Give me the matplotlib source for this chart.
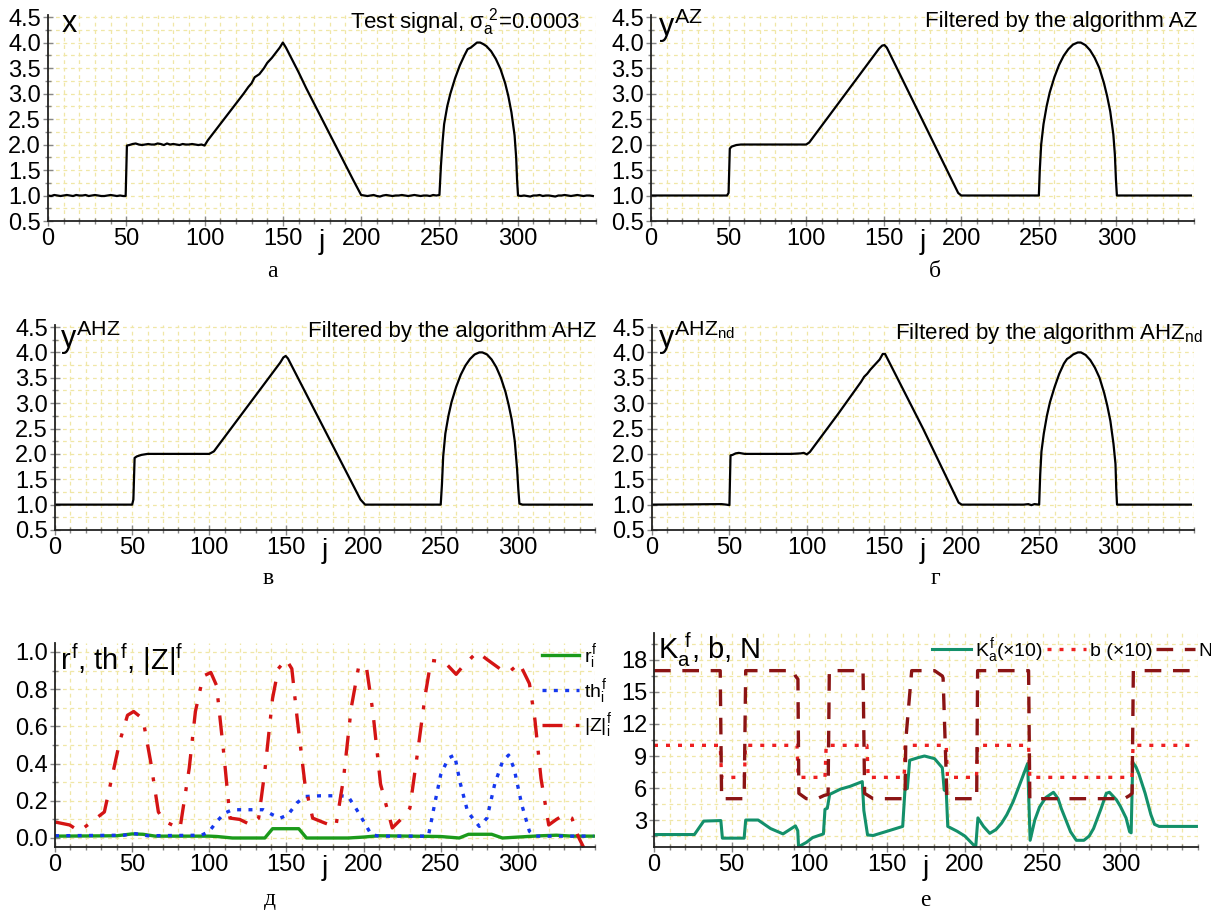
import matplotlib
matplotlib.use('Agg')
import matplotlib.pyplot as plt
from matplotlib.ticker import MultipleLocator, FixedLocator, FormatStrFormatter
import numpy as np

plt.rcParams['font.family'] = ['Liberation Sans', 'DejaVu Sans']
plt.rcParams['mathtext.fontset'] = 'custom'
plt.rcParams['mathtext.rm'] = 'Liberation Sans'
plt.rcParams['mathtext.it'] = 'Liberation Sans'
plt.rcParams['mathtext.bf'] = 'Liberation Sans:bold'
plt.rcParams['mathtext.sf'] = 'Liberation Sans'

# ---------------- data ----------------
# (a) test signal x
sig_j = np.concatenate([np.arange(0, 50, 2), [49.6, 50.4], np.arange(52, 100, 2),
                        [100, 102, 105, 110, 115, 120, 125, 128, 130, 132, 135, 138, 140, 143, 145, 148, 150,
                         152, 155, 160, 165, 170, 175, 180, 185, 188, 190, 195, 200],
                        np.arange(202, 250, 2),
                        [250, 251, 252, 253, 255, 257, 260, 263, 266, 268, 270, 272, 274, 276, 278, 280, 283,
                         286, 289, 292, 294, 296, 298, 299, 299.6, 300.2],
                        np.arange(302, 350, 2)])
sig_x = [1.00, 0.99, 1.01, 1.00, 0.99, 1.00, 1.01, 1.00, 0.99, 1.01, 1.00, 1.00, 1.01, 0.99, 1.00, 1.01,
         1.00, 0.99, 0.99, 1.00, 1.01, 1.00, 0.99, 1.00, 0.99,
         0.99, 1.98,
         1.99, 2.01, 2.02, 2.00, 1.99, 2.00, 2.01, 2.00, 2.00, 2.02, 2.01, 1.99, 2.02, 2.00, 2.01, 2.00,
         1.99, 2.01, 2.00, 2.00, 2.01, 2.00, 1.99, 2.00,
         1.98, 2.08, 2.2, 2.4, 2.6, 2.8, 3.0, 3.13, 3.2, 3.32, 3.38, 3.5, 3.6, 3.7, 3.78, 3.9, 4.0,
         3.9, 3.72, 3.42, 3.1, 2.8, 2.5, 2.2, 1.9, 1.72, 1.6, 1.3, 1.01,
         1.00, 0.99, 1.00, 1.01, 0.99, 0.98, 1.00, 1.01, 1.00, 0.99, 1.00, 1.00, 1.01, 1.00, 0.99, 1.00,
         1.01, 1.00, 0.99, 1.00, 1.00, 0.99, 1.01, 1.00,
         1.01, 1.6, 2.05, 2.4, 2.75, 3.0, 3.3, 3.55, 3.75, 3.87, 3.9, 3.95, 4.0, 4.0, 3.97, 3.93, 3.83,
         3.68, 3.48, 3.2, 2.95, 2.63, 2.18, 1.75, 1.3, 1.0,
         0.99, 1.00, 0.99, 0.98, 1.00, 1.00, 1.01, 0.99, 1.00, 1.00, 0.99, 0.98, 1.00, 1.00, 1.01, 1.00,
         0.99, 1.00, 1.01, 1.00, 0.99, 1.00, 1.00, 0.99]

# (b) filtered AZ
az_j = [0, 49, 50, 50.8, 52, 55, 58, 100, 102, 147, 149, 150.5, 152, 198, 200, 202, 250, 250.6, 251.5,
        253, 255, 257, 260, 263, 266, 269, 272, 275, 277, 280, 283, 286, 289, 292, 294, 296, 298, 299,
        299.7, 300.3, 302, 348]
az_y = [1.0, 1.0, 1.05, 1.92, 1.96, 1.99, 2.0, 2.0, 2.04, 3.88, 3.94, 3.95, 3.9, 1.05, 1.0, 1.0, 1.0,
        1.5, 2.0, 2.4, 2.75, 3.02, 3.32, 3.56, 3.74, 3.87, 3.96, 4.0, 4.0, 3.95, 3.85, 3.7, 3.5, 3.2,
        2.95, 2.65, 2.2, 1.8, 1.3, 1.0, 1.0, 1.0]

# (c) filtered AHZ
ahz_j = [0, 50, 50.8, 51.6, 53, 56, 60, 100, 103, 146, 148, 149.5, 151, 198, 201, 203, 250, 250.8,
         251.6, 253, 255, 257, 260, 263, 266, 269, 272, 275, 277, 280, 283, 286, 289, 292, 294, 296,
         298, 299.5, 300.3, 301, 303, 348]
ahz_y = [1.0, 1.0, 1.1, 1.92, 1.95, 1.98, 2.0, 2.0, 2.05, 3.8, 3.9, 3.93, 3.88, 1.1, 1.0, 1.0, 1.0,
         1.4, 1.95, 2.4, 2.75, 3.02, 3.32, 3.56, 3.74, 3.87, 3.96, 4.0, 4.0, 3.96, 3.86, 3.71, 3.5,
         3.22, 2.97, 2.68, 2.25, 1.7, 1.3, 1.02, 1.0, 1.0]

# (d) filtered AHZ_nd
nd_j = [0, 45, 48, 50, 50.7, 52, 54, 56, 60, 70, 80, 90, 96, 98, 100, 102, 120, 135, 137, 139, 141,
        144, 147, 149, 150.5, 152, 175, 198, 200, 202, 240, 243, 245, 247, 250, 250.7, 251.5, 253,
        255, 257, 260, 263, 266, 268, 270, 272, 275, 277, 280, 283, 286, 289, 292, 294, 296, 298,
        299.3, 299.8, 300.3, 302, 348]
nd_y = [1.0, 1.01, 1.0, 0.99, 1.97, 1.98, 2.01, 2.02, 2.0, 2.0, 2.0, 2.0, 2.01, 2.02, 1.99, 2.04,
        2.78, 3.42, 3.52, 3.58, 3.66, 3.76, 3.86, 3.97, 3.97, 3.88, 2.5, 1.04, 1.0, 1.0, 1.0, 1.01,
        0.99, 1.01, 1.0, 1.6, 2.05, 2.4, 2.75, 3.02, 3.32, 3.58, 3.78, 3.87, 3.91, 3.96, 4.0, 4.0,
        3.95, 3.85, 3.7, 3.5, 3.2, 2.95, 2.65, 2.2, 1.8, 1.3, 1.0, 1.0, 1.0]

# (e) r, th, |Z|
r_j = [0, 40, 50, 57, 65, 100, 105, 115, 136, 141, 158, 163, 190, 200, 210, 230, 250, 262, 268, 283,
       290, 300, 315, 325, 335, 349]
r_v = [0.01, 0.012, 0.022, 0.02, 0.01, 0.01, 0.008, 0.0, 0.0, 0.05, 0.05, 0.0, 0.0, 0.005, 0.012,
       0.01, 0.008, 0.0, 0.02, 0.02, 0.0, 0.005, 0.012, 0.015, 0.01, 0.01]
th_j = [0, 45, 50, 55, 60, 95, 100, 105, 110, 115, 135, 141, 146, 151, 157, 162, 172, 185, 190, 195,
        200, 205, 210, 242, 246, 250, 255, 259, 262.5, 267.5, 275, 280, 285, 290, 294, 297.5, 302.5,
        307.5, 311, 349]
th_v = [0.012, 0.015, 0.025, 0.02, 0.012, 0.015, 0.036, 0.09, 0.134, 0.152, 0.152, 0.125, 0.107,
        0.125, 0.19, 0.223, 0.227, 0.227, 0.223, 0.16, 0.09, 0.018, 0.01, 0.01, 0.18, 0.34, 0.43,
        0.446, 0.30, 0.14, 0.0625, 0.107, 0.29, 0.41, 0.446, 0.375, 0.18, 0.036, 0.01, 0.01]
z_j = [0, 9.5, 15.8, 32, 42, 47, 51, 57, 62, 67, 71, 81, 87, 91, 96, 101, 104.7, 109.7, 113.4, 119.7,
       127, 132, 136, 141, 144.7, 149.8, 153.5, 157, 162, 167, 175, 182, 187, 192, 197, 202, 206, 211,
       218.6, 225, 230, 235, 240, 243.7, 252.5, 260, 265, 273.7, 280, 290, 294, 301, 307.5, 311, 315,
       320, 325, 330, 335, 339, 342.6]
z_v = [0.086, 0.07, 0.036, 0.14, 0.52, 0.66, 0.68, 0.64, 0.41, 0.14, 0.09, 0.05, 0.375, 0.68, 0.87,
       0.89, 0.82, 0.43, 0.107, 0.10, 0.07, 0.107, 0.36, 0.75, 0.91, 0.96, 0.91, 0.64, 0.29, 0.107,
       0.08, 0.06, 0.32, 0.70, 0.93, 0.91, 0.68, 0.29, 0.054, 0.107, 0.16, 0.46, 0.77, 0.955, 0.946,
       0.88, 0.93, 1.0, 0.96, 0.90, 0.89, 0.94, 0.83, 0.64, 0.32, 0.07, 0.10, 0.125, 0.107, 0.01, -0.05]

# (f) K, b, N
k_j = [0, 26, 32, 43, 44, 58, 59, 67, 75, 83, 91, 92.5, 93, 98, 102, 109, 110, 111.5, 113, 120, 126,
       134, 135, 137.4, 141, 150, 160, 161.5, 163, 164.5, 170, 174, 180.5, 185.5, 186.7, 188, 189,
       195, 200, 206, 207, 208.4, 212, 216, 220, 223.6, 227, 231, 236, 240.4, 242, 245, 248, 252,
       257, 260, 262, 265, 268, 271.7, 276.6, 280, 282.8, 287.7, 291, 293, 297.5, 300, 303.7, 306,
       307, 308, 310, 312, 316, 319.7, 322, 325, 349]
k_v = [1.64, 1.64, 2.9, 2.95, 1.3, 1.3, 3.0, 3.0, 2.2, 1.7, 2.45, 2.0, 0.5, 0.9, 1.35, 1.7, 4.0, 4.1,
       5.4, 5.9, 6.15, 6.6, 3.9, 1.6, 1.55, 1.95, 2.4, 5.9, 5.95, 8.6, 8.85, 9.0, 8.75, 7.9, 5.8,
       5.8, 2.4, 1.95, 1.5, 0.6, 0.5, 3.2, 2.4, 1.75, 2.1, 2.7, 3.5, 4.7, 6.6, 8.3, 1.1, 3.0, 4.2,
       5.1, 5.6, 5.0, 4.1, 3.0, 1.9, 1.1, 1.1, 1.5, 2.2, 4.1, 5.5, 5.6, 4.9, 4.3, 3.2, 1.9, 1.8,
       8.4, 8.0, 7.3, 5.5, 3.5, 2.6, 2.4, 2.4]
b_j = [0, 42.6, 43.5, 58.2, 58.8, 92, 92.8, 110, 110.8, 137, 137.8, 161, 161.6, 188, 188.8, 207.5,
       208.2, 241, 241.8, 307.5, 308.2, 349]
b_v = [10, 10, 7, 7, 10, 10, 7, 7, 10, 10, 7, 7, 10, 10, 7, 7, 10, 10, 7, 7, 10, 10]
n_j = [0, 42.6, 43.5, 58, 59, 89.4, 91, 92.6, 93.2, 98, 105, 109.4, 112, 112.8, 134.5, 135.5, 141,
       161.5, 162, 165.8, 180.5, 185.5, 186, 188.5, 207.6, 208.2, 241, 241.8, 302.5, 306, 307.6,
       308.4, 349]
n_v = [17, 17, 5, 5, 17, 17, 16.5, 16.2, 5.5, 5, 5, 5.3, 5.4, 17, 17, 5.5, 5, 5, 10.5, 17, 17, 16.5,
       16.3, 5, 5, 17, 17, 5, 5, 5.3, 5.5, 17, 17]

x_major = [0, 50, 100, 150, 200, 250, 300]

# ---------------- layout ----------------
W, H = 1211, 915
fig = plt.figure(figsize=(W / 100, H / 100), dpi=100)


def rect(x0, x1, ytop, ybot):
    return [x0 / W, 1 - ybot / H, (x1 - x0) / W, (ybot - ytop) / H]


GRID = '#f0e7a6'
TICKFS = 17


def style(ax, ylim, ymaj, ymin, fmt):
    ax.set_xlim(0, 350)
    ax.set_ylim(*ylim)
    ax.xaxis.set_major_locator(FixedLocator(x_major))
    ax.xaxis.set_minor_locator(MultipleLocator(10))
    ax.yaxis.set_major_locator(MultipleLocator(ymaj))
    ax.yaxis.set_minor_locator(MultipleLocator(ymin))
    ax.yaxis.set_major_formatter(FormatStrFormatter(fmt))
    for s in ['top', 'right']:
        ax.spines[s].set_visible(False)
    for s in ['left', 'bottom']:
        ax.spines[s].set_color('#222222')
        ax.spines[s].set_linewidth(1.3)
    ax.tick_params(which='both', direction='inout', color='#888888', labelsize=TICKFS, pad=1.5)
    ax.tick_params(which='major', length=7, width=1.0)
    ax.tick_params(which='minor', length=5, width=1.0)
    ax.grid(which='both', color=GRID, linestyle=(0, (3, 3)), linewidth=0.9)
    ax.set_axisbelow(True)
    ax.text(175, -0.04, 'j', transform=ax.get_xaxis_transform(), ha='center', va='top',
            fontsize=20)


def ftext(x, y, s, **kw):
    fig.text(x / W, 1 - y / H, s, **kw)


top_ylim = (0.5, 4.55)
axA = fig.add_axes(rect(48, 596, 14.5, 221))
axB = fig.add_axes(rect(651, 1194, 14.5, 221))
axC = fig.add_axes(rect(55, 595, 324.5, 530))
axD = fig.add_axes(rect(652, 1194, 324.5, 530))
axE = fig.add_axes(rect(55, 595, 642.7, 847.3))
axF = fig.add_axes(rect(654, 1198, 633.3, 846.7))

for ax in (axA, axB, axC, axD):
    style(ax, top_ylim, 0.5, 0.25, '%.1f')
style(axE, (-0.05, 1.05), 0.2, 0.1, '%.1f')
style(axF, (0.5, 20.5), 3, 1.5, '%d')

LW = 1.6
axA.plot(sig_j, sig_x, color='black', lw=LW)
axB.plot(az_j, az_y, color='black', lw=LW)
axC.plot(ahz_j, ahz_y, color='black', lw=LW)
axD.plot(nd_j, nd_y, color='black', lw=LW)

l_r, = axE.plot(r_j, r_v, color='#1b9a1b', lw=2.4, label=r'$r^f_i$')
l_th, = axE.plot(th_j, th_v, color='#1638ee', lw=2.4, linestyle=(0, (1.2, 2.2)), label=r'$th^f_i$')
l_z, = axE.plot(z_j, z_v, color='#d41414', lw=2.4, linestyle=(0, (6, 4, 1.2, 4)), label=r'$|Z|^f_i$',
                clip_on=False)
axE.legend(handles=[l_r, l_th, l_z], loc='upper right', bbox_to_anchor=(612 / W, 1 - 642 / H),
           bbox_transform=fig.transFigure, frameon=False, fontsize=14, handlelength=1.9,
           handletextpad=0.25, labelspacing=0.3, borderaxespad=0, borderpad=0)

l_k, = axF.plot(k_j, k_v, color='#13906a', lw=2.2, label=r'$K_a^f$(×10)')
l_b, = axF.plot(b_j, b_v, color='#ee2020', lw=2.4, linestyle=(0, (1.2, 2.4)), label='b (×10)')
l_n, = axF.plot(n_j, n_v, color='#8b1414', lw=2.4, linestyle=(0, (5, 3.5)), label='N')
axF.legend(handles=[l_k, l_b, l_n], loc='upper right', bbox_to_anchor=(1213 / W, 1 - 636 / H),
           bbox_transform=fig.transFigure, frameon=False, fontsize=14, ncol=3, handlelength=2.0,
           handletextpad=0.2, columnspacing=0.2, borderaxespad=0, borderpad=0)

# annotations
BIG = 22
MID = 16
ftext(62, 24, 'x', fontsize=BIG, va='center', ha='left')
ftext(580, 22, r'Test signal, $\sigma_a^{\ 2}$=0.0003', fontsize=MID, va='center', ha='right')
ftext(658, 26, r'$y^{AZ}$', fontsize=BIG, va='center', ha='left')
ftext(1197, 22, 'Filtered by the algorithm AZ', fontsize=MID, va='center', ha='right')
ftext(60, 338, r'$y^{AHZ}$', fontsize=BIG, va='center', ha='left')
ftext(597, 332, 'Filtered by the algorithm AHZ', fontsize=MID, va='center', ha='right')
ftext(658, 338, r'$y^{AHZ_{nd}}$', fontsize=BIG, va='center', ha='left')
ftext(1203, 334, r'Filtered by the algorithm AHZ$_{nd}$', fontsize=MID, va='center', ha='right')
ftext(60, 660, r'$r^f$, $th^f$, $|Z|^f$', fontsize=21, va='center', ha='left')
ftext(658, 650, r'$K_a^{\ f}$, b, N', fontsize=21, va='center', ha='left')

SER = dict(family=['Liberation Serif', 'DejaVu Serif'], fontsize=17, ha='center', va='center')
ftext(272, 272, 'а', **SER)
ftext(935, 272, 'б', **SER)
ftext(268, 578, 'в', **SER)
ftext(935, 578, 'г', **SER)
ftext(270, 900, 'д', **SER)
ftext(925, 900, 'е', **SER)

fig.savefig('out.png', dpi=100)
